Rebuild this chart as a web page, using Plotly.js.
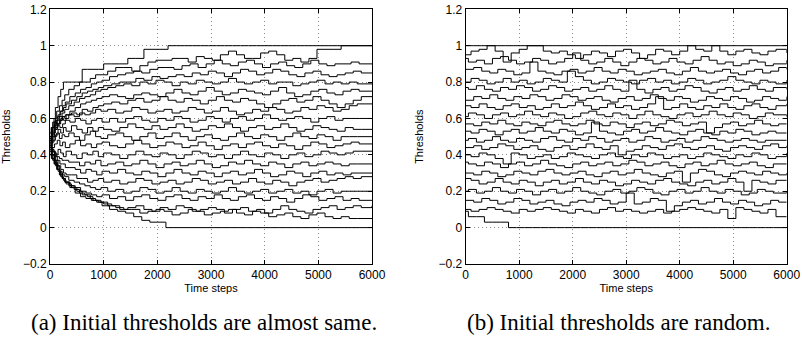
<!DOCTYPE html>
<html>
<head>
<meta charset="utf-8">
<script src="https://cdn.plot.ly/plotly-3.0.1.min.js"></script>
<style>html,body{margin:0;padding:0;background:#fff;}#chart{width:802px;height:337px;}</style>
</head>
<body>
<div id="chart"></div>
<script>
// ---------- (a) Initial thresholds are almost same ----------
// three staggered sampling grids (time steps) so that lines switch at different moments
const timeA1 = [0,50,100,150,200,250,300,400,500,600,700,800,900,1000,
  1150,1300,1450,1600,1750,1900,2050,2200,2350,2500,2650,
  2800,2950,3100,3250,3400,3550,3700,3850,4000,4150,4300,
  4450,4600,4750,4900,5050,5200,5350,5500,5650,5800,6000];
const timeA2 = [0,25,75,125,175,225,275,350,450,550,650,750,850,950,
  1075,1225,1375,1525,1675,1825,1975,2125,2275,2425,2575,
  2725,2875,3025,3175,3325,3475,3625,3775,3925,4075,4225,
  4375,4525,4675,4825,4975,5125,5275,5425,5575,5725,6000];
const timeA3 = [0,35,85,135,185,235,285,370,470,570,670,770,870,970,
  1110,1260,1410,1560,1710,1860,2010,2160,2310,2460,2610,
  2760,2910,3060,3210,3360,3510,3660,3810,3960,4110,4260,
  4410,4560,4710,4860,5010,5160,5310,5460,5610,5760,6000];

const a1 = [0.50,0.58,0.66,0.72,0.76,0.80,0.80,0.80,0.80,0.87,0.87,0.87,0.87,0.90,
  0.90,0.90,0.93,0.93,0.98,0.98,0.98,1,1,1,1, 1,1,1,1,1,1,1,1,1,1,1, 1,1,1,1,1,1,1,1,1,1,1];
const a2 = [0.48,0.55,0.60,0.64,0.67,0.70,0.73,0.76,0.78,0.80,0.80,0.82,0.84,0.84,
  0.86,0.88,0.88,0.86,0.89,0.91,0.92,0.92,0.93,0.93,0.91, 0.94,0.93,0.92,0.95,0.97,0.95,0.93,0.93,0.96,0.97,0.95, 0.92,0.93,0.91,0.93,0.98,0.98,0.98,1,1,1,1];
const a3 = [0.47,0.52,0.57,0.61,0.64,0.67,0.69,0.72,0.74,0.76,0.77,0.79,0.80,0.81,
  0.83,0.84,0.85,0.86,0.85,0.87,0.88,0.88,0.87,0.89,0.90, 0.88,0.90,0.92,0.90,0.89,0.91,0.92,0.90,0.88,0.90,0.91, 0.89,0.88,0.90,0.92,0.90,0.89,0.90,0.90,0.91,0.90,0.90];
const a4 = [0.49,0.55,0.59,0.62,0.64,0.66,0.68,0.70,0.72,0.74,0.75,0.76,0.77,0.78,
  0.79,0.80,0.80,0.82,0.81,0.83,0.82,0.83,0.84,0.83,0.85, 0.84,0.86,0.85,0.83,0.85,0.87,0.86,0.84,0.85,0.87,0.86, 0.84,0.83,0.85,0.86,0.84,0.83,0.84,0.85,0.86,0.85,0.85];
const a5 = [0.50,0.53,0.56,0.59,0.61,0.63,0.65,0.67,0.69,0.71,0.72,0.73,0.75,0.76,
  0.77,0.78,0.79,0.78,0.80,0.79,0.81,0.80,0.78,0.80,0.79, 0.81,0.80,0.79,0.80,0.82,0.80,0.79,0.80,0.81,0.79,0.80, 0.80,0.78,0.79,0.80,0.81,0.79,0.80,0.79,0.80,0.79,0.79];
const a6 = [0.46,0.50,0.54,0.57,0.59,0.61,0.62,0.64,0.66,0.68,0.69,0.70,0.71,0.72,
  0.73,0.72,0.71,0.73,0.74,0.73,0.72,0.74,0.76,0.74,0.73, 0.75,0.77,0.75,0.73,0.74,0.76,0.75,0.74,0.73,0.75,0.77, 0.74,0.72,0.73,0.75,0.76,0.74,0.73,0.75,0.76,0.75,0.75];
const a7 = [0.48,0.52,0.55,0.57,0.60,0.59,0.62,0.63,0.62,0.65,0.64,0.66,0.67,0.68,
  0.69,0.68,0.70,0.71,0.69,0.70,0.72,0.70,0.69,0.71,0.70, 0.68,0.70,0.72,0.70,0.69,0.71,0.70,0.68,0.66,0.68,0.70, 0.71,0.69,0.70,0.72,0.70,0.68,0.66,0.68,0.70,0.72,0.72];
const a8 = [0.52,0.55,0.58,0.57,0.59,0.61,0.60,0.62,0.61,0.63,0.62,0.63,0.65,0.64,
  0.65,0.63,0.64,0.66,0.65,0.63,0.64,0.65,0.63,0.64,0.66, 0.65,0.63,0.64,0.66,0.64,0.62,0.63,0.65,0.64,0.66,0.65, 0.63,0.64,0.66,0.65,0.67,0.66,0.64,0.65,0.67,0.68,0.68];
const a9 = [0.48,0.51,0.54,0.56,0.55,0.57,0.59,0.58,0.60,0.59,0.57,0.59,0.60,0.58,
  0.60,0.58,0.60,0.61,0.59,0.58,0.60,0.59,0.61,0.60,0.58, 0.59,0.61,0.60,0.58,0.60,0.61,0.59,0.60,0.62,0.60,0.59, 0.60,0.61,0.60,0.58,0.60,0.61,0.59,0.60,0.60,0.60,0.60];
const a10 = [0.45,0.48,0.51,0.54,0.52,0.55,0.53,0.56,0.54,0.52,0.55,0.53,0.55,0.54,
  0.53,0.55,0.57,0.55,0.54,0.56,0.54,0.55,0.57,0.55,0.53, 0.54,0.56,0.55,0.57,0.55,0.53,0.55,0.56,0.54,0.55,0.57, 0.55,0.53,0.54,0.56,0.55,0.54,0.53,0.55,0.54,0.54,0.54];
const a11 = [0.50,0.47,0.50,0.52,0.49,0.51,0.50,0.52,0.50,0.48,0.51,0.53,0.50,0.49,
  0.51,0.52,0.50,0.48,0.50,0.52,0.49,0.50,0.52,0.50,0.48, 0.50,0.51,0.49,0.48,0.50,0.52,0.50,0.49,0.51,0.50,0.48, 0.50,0.52,0.50,0.49,0.51,0.50,0.48,0.50,0.50,0.50,0.50];
const a12 = [0.47,0.44,0.46,0.48,0.45,0.47,0.44,0.46,0.48,0.45,0.46,0.44,0.46,0.47,
  0.45,0.44,0.46,0.48,0.46,0.44,0.45,0.47,0.46,0.44,0.45, 0.47,0.45,0.43,0.45,0.46,0.44,0.46,0.47,0.45,0.44,0.46, 0.45,0.43,0.45,0.47,0.46,0.44,0.45,0.46,0.47,0.46,0.46];
const a13 = [0.44,0.42,0.40,0.43,0.41,0.39,0.42,0.40,0.38,0.41,0.40,0.42,0.39,0.41,
  0.40,0.38,0.40,0.42,0.40,0.39,0.41,0.40,0.38,0.40,0.42, 0.41,0.39,0.40,0.38,0.40,0.42,0.40,0.39,0.41,0.40,0.38, 0.40,0.41,0.39,0.40,0.42,0.41,0.40,0.41,0.42,0.42,0.42];
const a14 = [0.46,0.43,0.41,0.39,0.38,0.37,0.37,0.36,0.36,0.34,0.36,0.35,0.37,0.34,
  0.35,0.36,0.34,0.35,0.37,0.35,0.33,0.35,0.36,0.34,0.35, 0.37,0.35,0.33,0.34,0.36,0.35,0.37,0.35,0.34,0.36,0.35, 0.33,0.35,0.36,0.34,0.35,0.36,0.35,0.34,0.35,0.35,0.35];
const a15 = [0.45,0.42,0.39,0.37,0.35,0.35,0.33,0.33,0.32,0.30,0.32,0.31,0.29,0.31,
  0.30,0.32,0.30,0.29,0.31,0.30,0.28,0.30,0.32,0.30,0.29, 0.31,0.30,0.28,0.30,0.31,0.29,0.30,0.32,0.30,0.28,0.29, 0.31,0.30,0.28,0.30,0.31,0.29,0.30,0.29,0.30,0.30,0.30];
const a16 = [0.43,0.40,0.37,0.34,0.32,0.30,0.29,0.29,0.27,0.27,0.25,0.26,0.27,0.25,
  0.26,0.24,0.25,0.27,0.26,0.24,0.25,0.26,0.24,0.25,0.27, 0.26,0.24,0.25,0.26,0.24,0.25,0.27,0.25,0.24,0.26,0.25, 0.23,0.25,0.26,0.27,0.25,0.26,0.27,0.28,0.27,0.28,0.28];
const a17 = [0.44,0.40,0.37,0.34,0.31,0.29,0.28,0.26,0.25,0.24,0.23,0.22,0.21,0.22,
  0.20,0.21,0.19,0.20,0.22,0.21,0.19,0.20,0.22,0.20,0.19, 0.21,0.20,0.19,0.20,0.22,0.20,0.19,0.20,0.21,0.19,0.20, 0.21,0.19,0.20,0.18,0.20,0.21,0.19,0.20,0.20,0.20,0.20];
const a18 = [0.42,0.38,0.35,0.32,0.30,0.27,0.25,0.23,0.22,0.20,0.19,0.18,0.17,0.18,
  0.16,0.17,0.15,0.17,0.18,0.16,0.15,0.17,0.18,0.16,0.15, 0.17,0.16,0.18,0.16,0.15,0.17,0.18,0.16,0.15,0.17,0.16, 0.14,0.16,0.18,0.17,0.15,0.16,0.17,0.15,0.16,0.15,0.15];
const a19 = [0.40,0.37,0.34,0.31,0.28,0.26,0.24,0.22,0.20,0.18,0.17,0.15,0.14,0.13,
  0.12,0.10,0.11,0.12,0.10,0.09,0.11,0.10,0.12,0.11,0.09, 0.10,0.11,0.10,0.08,0.10,0.11,0.09,0.10,0.08,0.10,0.12, 0.10,0.09,0.08,0.10,0.11,0.12,0.10,0.11,0.12,0.11,0.12];
const a20 = [0.42,0.38,0.35,0.32,0.29,0.27,0.25,0.23,0.21,0.19,0.18,0.16,0.15,0.14,
  0.12,0.11,0.10,0.10,0.08,0.09,0.10,0.09,0.07,0.08,0.10, 0.09,0.07,0.08,0.09,0.10,0.08,0.07,0.09,0.08,0.06,0.07, 0.08,0.06,0.05,0.07,0.08,0.06,0.05,0.06,0.05,0.05,0.05];
const a21 = [0.45,0.40,0.36,0.32,0.29,0.27,0.25,0.22,0.19,0.17,0.16,0.15,0.14,0.12,
  0.10,0.09,0.08,0.06,0.04,0.03,0.03,0,0,0,0, 0,0,0,0,0,0,0,0,0,0,0, 0,0,0,0,0,0,0,0,0,0,0];

// ---------- (b) Initial thresholds are random ----------
const timeB1 = [0,150,300,450,600,750,900,1050,1200,1350,1500,1650,1800,1950,2100,2250,2400,2550,2700,2850,
  3000,3150,3300,3450,3600,3750,3900,4050,4200,4350,4500,4650,4800,4950,5100,5250,5400,5550,5700,5850,6000];
const timeB2 = [0,100,250,400,550,700,850,1000,1150,1300,1450,1600,1750,1900,2050,2200,2350,2500,2650,2800,
  2950,3100,3250,3400,3550,3700,3850,4000,4150,4300,4450,4600,4750,4900,5050,5200,5350,5500,5650,5800,6000];
const timeB3 = [0,50,200,350,500,650,800,950,1100,1250,1400,1550,1700,1850,2000,2150,2300,2450,2600,2750,
  2900,3050,3200,3350,3500,3650,3800,3950,4100,4250,4400,4550,4700,4850,5000,5150,5300,5450,5600,5750,6000];

const b1 = [1,1,1,1,1,1,1,1,1,1, 1,1,1,1,1,1,1,1,1,1, 1,1,1,1,1,1,1,1,1,1, 1,1,1,1,1,1,1,1,1,1,1];
const b2 = [0.95,0.97,0.98,1.0,0.97,0.91,0.96,0.98,1.0,1.0, 0.97,0.96,0.97,0.95,0.93,0.95,0.97,0.96,0.94,0.97, 0.98,0.96,0.93,0.95,0.98,0.97,0.95,0.97,1.0,0.98, 0.97,1.0,0.97,0.95,0.97,0.98,0.96,0.95,0.97,0.98,0.96];
const b3 = [0.93,0.91,0.92,0.90,0.93,0.94,0.92,0.90,0.91,0.93, 0.92,0.90,0.91,0.93,0.96,0.92,0.90,0.91,0.93,0.91, 0.89,0.91,0.93,0.92,0.90,0.91,0.93,0.91,0.90,0.92, 0.94,0.92,0.90,0.91,0.89,0.90,0.92,0.91,0.89,0.90,0.92];
const b4 = [0.87,0.88,0.86,0.85,0.87,0.86,0.84,0.85,0.91,0.86, 0.85,0.84,0.86,0.87,0.85,0.86,0.88,0.86,0.85,0.87, 0.86,0.84,0.85,0.86,0.87,0.85,0.84,0.86,0.88,0.86, 0.85,0.86,0.87,0.85,0.84,0.86,0.87,0.85,0.86,0.88,0.87];
const b5 = [0.80,0.82,0.81,0.79,0.80,0.82,0.80,0.81,0.79,0.80, 0.82,0.81,0.80,0.86,0.83,0.81,0.79,0.80,0.82,0.81, 0.80,0.79,0.81,0.82,0.80,0.81,0.79,0.80,0.82,0.81, 0.79,0.80,0.81,0.83,0.81,0.80,0.79,0.81,0.80,0.79,0.81];
const b6 = [0.77,0.76,0.78,0.76,0.75,0.77,0.76,0.78,0.77,0.75, 0.76,0.78,0.77,0.75,0.76,0.77,0.75,0.76,0.78,0.76, 0.75,0.81,0.76,0.74,0.76,0.77,0.75,0.76,0.78,0.77, 0.75,0.74,0.76,0.77,0.75,0.76,0.78,0.76,0.75,0.77,0.76];
const b7 = [0.70,0.72,0.71,0.73,0.71,0.70,0.72,0.71,0.73,0.72, 0.70,0.71,0.73,0.72,0.70,0.71,0.72,0.70,0.69,0.71, 0.72,0.70,0.71,0.73,0.71,0.70,0.72,0.71,0.69,0.70, 0.72,0.71,0.70,0.72,0.71,0.69,0.70,0.72,0.71,0.70,0.72];
const b8 = [0.67,0.66,0.68,0.66,0.65,0.67,0.68,0.66,0.67,0.65, 0.66,0.68,0.66,0.67,0.69,0.67,0.65,0.66,0.68,0.66, 0.67,0.65,0.66,0.68,0.72,0.65,0.66,0.68,0.66,0.65, 0.67,0.66,0.68,0.66,0.65,0.67,0.68,0.66,0.65,0.67,0.68];
const b9 = [0.61,0.63,0.62,0.60,0.62,0.63,0.61,0.62,0.64,0.62, 0.61,0.63,0.62,0.60,0.61,0.63,0.64,0.62,0.61,0.63, 0.62,0.60,0.62,0.64,0.62,0.61,0.60,0.62,0.63,0.61, 0.62,0.64,0.62,0.61,0.63,0.62,0.60,0.61,0.63,0.62,0.61];
const b10 = [0.57,0.56,0.58,0.57,0.59,0.57,0.56,0.58,0.57,0.56, 0.58,0.59,0.57,0.56,0.57,0.59,0.57,0.56,0.58,0.57, 0.55,0.57,0.58,0.56,0.57,0.59,0.58,0.56,0.57,0.58, 0.52,0.55,0.57,0.58,0.56,0.57,0.59,0.57,0.56,0.57,0.57];
const b11 = [0.53,0.52,0.54,0.53,0.51,0.53,0.54,0.52,0.53,0.55, 0.53,0.52,0.54,0.53,0.51,0.52,0.58,0.53,0.52,0.51, 0.53,0.54,0.52,0.53,0.55,0.53,0.52,0.51,0.53,0.54, 0.52,0.51,0.53,0.52,0.54,0.53,0.51,0.52,0.53,0.52,0.52];
const b12 = [0.48,0.49,0.47,0.48,0.50,0.48,0.47,0.49,0.48,0.47, 0.49,0.50,0.48,0.47,0.49,0.48,0.50,0.49,0.47,0.48, 0.49,0.47,0.48,0.50,0.49,0.47,0.48,0.49,0.47,0.48, 0.50,0.49,0.48,0.47,0.48,0.49,0.48,0.47,0.48,0.48,0.48];
const b13 = [0.44,0.45,0.43,0.44,0.46,0.45,0.43,0.44,0.45,0.43, 0.42,0.44,0.45,0.43,0.44,0.46,0.44,0.43,0.45,0.40, 0.42,0.43,0.45,0.44,0.43,0.45,0.46,0.44,0.43,0.44, 0.45,0.43,0.42,0.44,0.45,0.44,0.43,0.45,0.46,0.44,0.45];
const b14 = [0.40,0.39,0.41,0.40,0.38,0.35,0.41,0.40,0.38,0.39, 0.40,0.38,0.39,0.41,0.40,0.39,0.38,0.40,0.41,0.39, 0.38,0.40,0.39,0.41,0.40,0.38,0.39,0.40,0.38,0.39, 0.41,0.40,0.39,0.38,0.40,0.39,0.41,0.40,0.38,0.39,0.41];
const b15 = [0.36,0.35,0.34,0.36,0.35,0.33,0.35,0.36,0.34,0.35, 0.37,0.35,0.34,0.33,0.35,0.36,0.34,0.35,0.36,0.34, 0.35,0.37,0.36,0.34,0.35,0.36,0.34,0.33,0.35,0.36, 0.34,0.35,0.37,0.35,0.34,0.35,0.36,0.34,0.33,0.35,0.35];
const b16 = [0.30,0.29,0.31,0.30,0.28,0.29,0.31,0.30,0.29,0.31, 0.32,0.30,0.29,0.30,0.31,0.29,0.28,0.30,0.31,0.29, 0.30,0.32,0.30,0.29,0.28,0.30,0.31,0.25,0.30,0.32, 0.31,0.29,0.28,0.30,0.31,0.30,0.29,0.31,0.30,0.29,0.30];
const b17 = [0.27,0.26,0.24,0.25,0.27,0.25,0.24,0.26,0.25,0.23, 0.25,0.26,0.24,0.25,0.27,0.25,0.24,0.26,0.25,0.23, 0.24,0.26,0.25,0.24,0.26,0.27,0.25,0.24,0.23,0.25, 0.26,0.24,0.25,0.27,0.25,0.20,0.26,0.25,0.24,0.26,0.26];
const b18 = [0.20,0.21,0.19,0.20,0.22,0.20,0.19,0.21,0.20,0.18, 0.20,0.21,0.19,0.20,0.22,0.20,0.19,0.18,0.20,0.21, 0.19,0.20,0.22,0.21,0.19,0.18,0.20,0.21,0.19,0.20, 0.22,0.20,0.19,0.21,0.20,0.18,0.19,0.21,0.20,0.19,0.20];
const b19 = [0.15,0.14,0.16,0.15,0.13,0.14,0.16,0.15,0.13,0.14, 0.15,0.13,0.12,0.14,0.15,0.14,0.16,0.15,0.13,0.14, 0.19,0.13,0.14,0.16,0.15,0.09,0.12,0.14,0.15,0.13, 0.14,0.16,0.14,0.13,0.15,0.14,0.12,0.13,0.15,0.14,0.14];
const b20 = [0.10,0.09,0.10,0.11,0.10,0.09,0.08,0.10,0.09,0.10, 0.11,0.10,0.09,0.08,0.10,0.09,0.08,0.10,0.11,0.09, 0.10,0.09,0.08,0.09,0.10,0.08,0.09,0.10,0.11,0.10, 0.09,0.08,0.10,0.05,0.11,0.10,0.09,0.08,0.10,0.06,0.06];
const b21 = [0.09,0.06,0.06,0.03,0.03,0.03,0,0,0,0, 0,0,0,0,0,0,0,0,0,0, 0,0,0,0,0,0,0,0,0,0, 0,0,0,0,0,0,0,0,0,0,0];

const seriesA = [a1,a2,a3,a4,a5,a6,a7,a8,a9,a10,a11,a12,a13,a14,a15,a16,a17,a18,a19,a20,a21];
const seriesB = [b1,b2,b3,b4,b5,b6,b7,b8,b9,b10,b11,b12,b13,b14,b15,b16,b17,b18,b19,b20,b21];
const gridsA = [timeA1, timeA2, timeA3];
const gridsB = [timeB1, timeB2, timeB3];

const captionA = '(a) Initial thresholds are almost same.';
const captionB = '(b) Initial thresholds are random.';

const lineStyle = {color: '#000', width: 1, shape: 'hv'};
const traces = [];
seriesA.forEach((v, i) => traces.push({x: gridsA[i % 3], y: v, type: 'scatter', mode: 'lines', line: lineStyle, xaxis: 'x', yaxis: 'y', hoverinfo: 'skip'}));
seriesB.forEach((v, i) => traces.push({x: gridsB[i % 3], y: v, type: 'scatter', mode: 'lines', line: lineStyle, xaxis: 'x2', yaxis: 'y2', hoverinfo: 'skip'}));

const tickFont = {family: 'Liberation Sans, Arial, sans-serif', size: 12, color: '#000'};
const titleFont = {family: 'Liberation Sans, Arial, sans-serif', size: 11, color: '#000'};
const gridDash = '1px,3px';
function xAx(dom) {
  return {domain: dom, range: [0, 6000], tick0: 0, dtick: 1000, ticks: 'inside', ticklen: 4, tickcolor: '#000',
    showline: true, linecolor: '#000', linewidth: 1, mirror: 'allticks', showgrid: true, gridcolor: '#8c8c8c',
    griddash: gridDash, gridwidth: 1, zeroline: false, tickfont: tickFont, fixedrange: true,
    title: {text: 'Time steps', font: titleFont, standoff: 2}};
}
function yAx(dom, anchor) {
  return {domain: dom, range: [-0.2, 1.2], tick0: 0, dtick: 0.2, ticks: 'inside', ticklen: 4, tickcolor: '#000',
    showline: true, linecolor: '#000', linewidth: 1, mirror: 'allticks', showgrid: true, gridcolor: '#8c8c8c',
    griddash: gridDash, gridwidth: 1, zeroline: false, tickfont: tickFont, anchor: anchor, fixedrange: true,
    title: {text: 'Thresholds', font: titleFont, standoff: 12}};
}
const yDom = [1 - 264 / 337, 1 - 9.3 / 337];
const layout = {
  width: 802, height: 337, margin: {l: 0, r: 0, t: 0, b: 0},
  paper_bgcolor: '#fff', plot_bgcolor: '#fff', showlegend: false,
  xaxis: Object.assign(xAx([50 / 802, 372 / 802]), {anchor: 'y'}),
  yaxis: yAx(yDom, 'x'),
  xaxis2: Object.assign(xAx([465.7 / 802, 786.7 / 802]), {anchor: 'y2'}),
  yaxis2: yAx(yDom, 'x2'),
  annotations: [
    {text: captionA, xref: 'paper', yref: 'paper', x: 203.5 / 802, y: 1 - 322 / 337, xanchor: 'center', yanchor: 'middle',
     showarrow: false, font: {family: 'Liberation Serif, Times New Roman, serif', size: 23, color: '#000'}},
    {text: captionB, xref: 'paper', yref: 'paper', x: 618.6 / 802, y: 1 - 322 / 337, xanchor: 'center', yanchor: 'middle',
     showarrow: false, font: {family: 'Liberation Serif, Times New Roman, serif', size: 23, color: '#000'}}
  ]
};
Plotly.newPlot('chart', traces, layout, {staticPlot: true, displayModeBar: false});
</script>
</body>
</html>
